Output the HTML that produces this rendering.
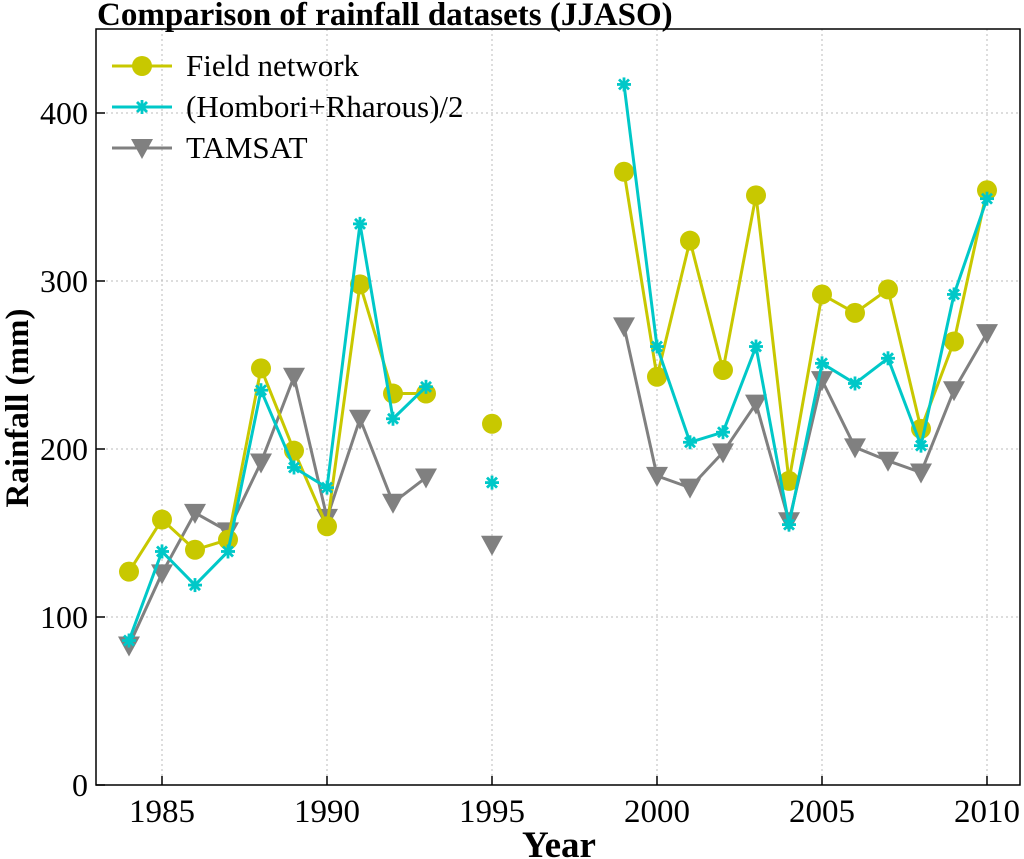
<!DOCTYPE html>
<html><head><meta charset="utf-8"><style>
html,body{margin:0;padding:0;background:#fff;}
svg{display:block;font-family:"Liberation Serif",serif;}
</style></head><body>
<svg id="chart" width="1024" height="859">
<rect x="0" y="0" width="1024" height="859" fill="#fff"/>
<g id="grid"></g>
<g id="series"></g>
<g id="axes"></g>
<text x="97" y="25" font-size="33" font-weight="bold">Comparison of rainfall datasets (JJASO)</text>
<text x="559" y="857" font-size="37" font-weight="bold" text-anchor="middle">Year</text>
<text transform="translate(28,408) rotate(-90)" font-size="33" font-weight="bold" text-anchor="middle">Rainfall (mm)</text>
<g id="legend"></g>
</svg>
<script>
const years = [1984,1985,1986,1987,1988,1989,1990,1991,1992,1993,1994,1995,1996,1997,1998,1999,2000,2001,2002,2003,2004,2005,2006,2007,2008,2009,2010];
const fieldNetwork = [127,158,140,146,248,199,154,298,233,233,null,215,null,null,null,365,243,324,247,351,181,292,281,295,212,264,354];
const homboriRharous = [86,139,119,139,235,189,177,334,218,237,null,180,null,null,null,417,261,204,210,261,155,251,239,254,202,292,349];
const tamsat = [83,126,162,151,192,243,159,218,168,183,null,143,null,null,null,273,184,177,198,227,157,241,201,193,186,235,269];
const xTicks = [1985,1990,1995,2000,2005,2010];
const yTicks = [0,100,200,300,400];
const seriesNames = ["Field network","(Hombori+Rharous)/2","TAMSAT"];

const NS="http://www.w3.org/2000/svg";
const L=96,R=1020,T=29,B=785,X0=1983,X1=2011,Y0=0,Y1=450;
const sx=v=>L+(v-X0)/(X1-X0)*(R-L);
const sy=v=>B-(v-Y0)/(Y1-Y0)*(B-T);
function mk(tag,attrs,parent){const e=document.createElementNS(NS,tag);for(const k in attrs)e.setAttribute(k,attrs[k]);parent.appendChild(e);return e;}
const grid=document.getElementById('grid'),axes=document.getElementById('axes'),ser=document.getElementById('series'),leg=document.getElementById('legend');
xTicks.forEach(t=>{
  const g=mk('line',{x1:sx(t),x2:sx(t),y1:T,y2:B,stroke:'#bbb','stroke-width':1,'stroke-dasharray':'2,3'},grid);
  
  
  const tk=mk('line',{x1:sx(t),x2:sx(t),y1:B,y2:B-9,stroke:'#000','stroke-width':1.5},axes);
  
  
  const tx=mk('text',{x:sx(t),y:B+37,'font-size':33,'text-anchor':'middle'},axes);tx.textContent=t;
  
  
});
yTicks.forEach(t=>{
  const g=mk('line',{x1:L,x2:R,y1:sy(t),y2:sy(t),stroke:'#bbb','stroke-width':1,'stroke-dasharray':'2,3'},grid);
  
  
  const tk=mk('line',{x1:L,x2:L+9,y1:sy(t),y2:sy(t),stroke:'#000','stroke-width':1.5},axes);
  
  
  const tx=mk('text',{x:L-8,y:sy(t)+11,'font-size':32,'text-anchor':'end'},axes);tx.textContent=t;
  
  
});
const frame=mk('rect',{x:L,y:T,width:R-L,height:B-T,fill:'none',stroke:'#000','stroke-width':1.5},axes);



function marker(type,x,y,color,parent){
  let e;
  if(type==='circle'){e=mk('circle',{cx:x,cy:y,r:10,fill:color},parent);}
  else if(type==='star'){
    e=mk('g',{stroke:color,'stroke-width':2.8},parent);
    [[-7,0,7,0],[0,-7,0,7],[-5,-5,5,5],[-5,5,5,-5]].forEach(d=>mk('line',{x1:x+d[0],y1:y+d[1],x2:x+d[2],y2:y+d[3]},e));
  } else {e=mk('path',{d:`M${x-11},${y-9}L${x+11},${y-9}L${x},${y+11}Z`,fill:color},parent);}
  return e;
}
function drawSeries(vals,color,type,name){
  const g=mk('g',{},ser);
  
  
  let d='',pen=false;
  vals.forEach((v,i)=>{if(v==null){pen=false;return;}d+=(pen?'L':'M')+sx(years[i])+','+sy(v);pen=true;});
  const p=mk('path',{d:d,fill:'none',stroke:color,'stroke-width':3},g);
  
  
  vals.forEach((v,i)=>{if(v==null)return;const m=marker(type,sx(years[i]),sy(v),color,g);
    
    });
}
const colors=['#c8c800','#00c8c8','#808080'],types=['circle','star','tri'];
drawSeries(tamsat,colors[2],types[2],'tamsat-series');
drawSeries(fieldNetwork,colors[0],types[0],'field-network-series');
drawSeries(homboriRharous,colors[1],types[1],'hombori-rharous-series');
seriesNames.forEach((n,i)=>{
  const y=66+i*41;
  const g=mk('g',{},leg);
  
  
  mk('line',{x1:112,x2:172,y1:y,y2:y,stroke:colors[i],'stroke-width':3},g);
  marker(types[i],142,y,colors[i],g);
  const t=mk('text',{x:186,y:y+10,'font-size':31},g);t.textContent=n;
});
</script>
</body></html>
